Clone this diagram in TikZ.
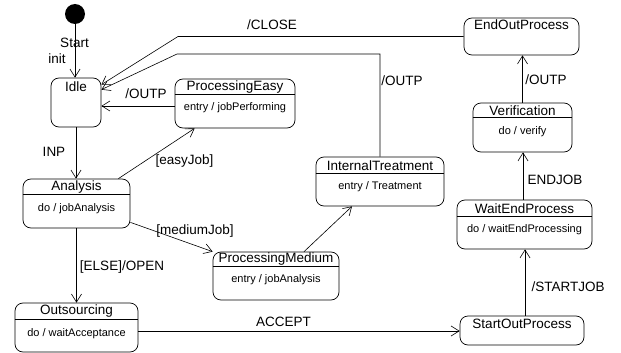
\documentclass[tikz,border=0pt]{standalone}
\usepackage{fontspec}
\setmainfont{Liberation Sans}
\usetikzlibrary{arrows.meta}
\begin{document}
\begin{tikzpicture}[x=1pt,y=-1pt,
  state/.style={draw, rounded corners=8pt, line width=0.7pt, inner sep=0pt},
  divider/.style={draw, line width=0.7pt},
  ttl/.style={font=\fontsize{13.5}{15}\selectfont, inner sep=0pt},
  body/.style={font=\fontsize{11}{13}\selectfont, inner sep=0pt},
  lbl/.style={font=\fontsize{13.5}{15}\selectfont, inner sep=0pt},
  arr/.style={draw, line width=0.6pt, -{Straight Barb[length=8pt,width=10pt]}},
  ]
\useasboundingbox (0,0) rectangle (621,353);
% initial
\node[fill=black, circle, minimum size=20pt, inner sep=0pt] (init) at (75,14) {};
% Idle
\node[state, minimum width=50pt, minimum height=49pt] (idle) at (76,102.5) {};
\node[ttl] (idleT) at (76,87) {Idle};
% ProcessingEasy
\node[state, minimum width=120pt, minimum height=49pt] (pe) at (235,103.5) {};
\draw[divider] ([yshift=-16pt]pe.north west) -- ([yshift=-16pt]pe.north east);
\node[ttl] (peT) at (235,87.5) {ProcessingEasy};
\node[body] (peB) at (235,108) {entry / jobPerforming};
% Analysis
\node[state, minimum width=107pt, minimum height=49pt] (an) at (76.5,203.5) {};
\draw[divider] ([yshift=-16pt]an.north west) -- ([yshift=-16pt]an.north east);
\node[ttl] (anT) at (76.5,187.5) {Analysis};
\node[body] (anB) at (76.5,208.5) {do / jobAnalysis};
% Outsourcing
\node[state, minimum width=123pt, minimum height=49pt] (out) at (76.5,327.5) {};
\draw[divider] ([yshift=-17pt]out.north west) -- ([yshift=-17pt]out.north east);
\node[ttl] (outT) at (76.5,311.5) {Outsourcing};
\node[body] (outB) at (76.5,333.5) {do / waitAcceptance};
% ProcessingMedium
\node[state, minimum width=126pt, minimum height=48pt] (pm) at (276,276) {};
\draw[divider] ([yshift=-15pt]pm.north west) -- ([yshift=-15pt]pm.north east);
\node[ttl] (pmT) at (276,259.5) {ProcessingMedium};
\node[body] (pmB) at (276,280) {entry / jobAnalysis};
% InternalTreatment
\node[state, minimum width=128pt, minimum height=49pt] (it) at (380,181.5) {};
\draw[divider] ([yshift=-17pt]it.north west) -- ([yshift=-17pt]it.north east);
\node[ttl] (itT) at (380,165.5) {InternalTreatment};
\node[body] (itB) at (380,187) {entry / Treatment};
% EndOutProcess
\node[state, minimum width=115pt, minimum height=37pt] (eop) at (521.5,36.5) {};
\node[ttl] (eopT) at (521.5,25) {EndOutProcess};
% Verification
\node[state, minimum width=99pt, minimum height=49pt] (ver) at (522.5,127.5) {};
\draw[divider] ([yshift=-15pt]ver.north west) -- ([yshift=-15pt]ver.north east);
\node[ttl] (verT) at (522.5,110.5) {Verification};
\node[body] (verB) at (522.5,132) {do / verify};
% WaitEndProcess
\node[state, minimum width=135pt, minimum height=49pt] (wep) at (524.5,224.5) {};
\draw[divider] ([yshift=-17pt]wep.north west) -- ([yshift=-17pt]wep.north east);
\node[ttl] (wepT) at (524.5,208.5) {WaitEndProcess};
\node[body] (wepB) at (524.5,230) {do / waitEndProcessing};
% StartOutProcess
\node[state, minimum width=124pt, minimum height=29pt] (sop) at (522,330.5) {};
\node[ttl] (sopT) at (522,324) {StartOutProcess};

% bends
\coordinate (bendA) at (178,36.5);
\coordinate (bendB) at (177,54);

% connectors
\draw[arr] (init) -- (init |- idle.north);
\draw[arr] (idle.south) -- (idle.south |- an.north);
\draw[arr] (an.south) -- (an.south |- out.north);
\draw[arr] ([yshift=-2.5pt]pe.west) -- ([yshift=-3.5pt]idle.east);
\draw[arr] ([xshift=-12pt]an.north east) -- ([xshift=20pt]pe.south west);
\draw[arr] ([yshift=6pt]an.south east) -- (pm.north west);
\draw[arr] ([xshift=28pt]pm.north) -- ([xshift=-28pt]it.south);
\draw[arr] (it.north) |- (bendB) -- ([yshift=-12pt]idle.north east);
\draw[arr] (eop.west) -- (bendA) -- ([yshift=-7pt]idle.north east);
\draw[arr] (ver.north) -- (ver.north |- eop.south);
\draw[arr] ([xshift=-1.5pt]wep.north) -- ([xshift=-1.5pt]wep.north |- ver.south);
\draw[arr] ([xshift=3pt]sop.north) -- ([xshift=3pt]sop.north |- wep.south);
\draw[arr] ([yshift=-3.5pt]out.east) -- ([yshift=-0.5pt]sop.west);

% labels
\node[lbl] (lStart) at (74.5,43) {Start};
\node[lbl] (lInit) at (57,59) {init};
\node[lbl] (lOutp1) at (146,94) {/OUTP};
\node[lbl] (lInp) at (54,152) {INP};
\node[lbl] (lEasy) at (184.5,161) {[easyJob]};
\node[lbl] (lClose) at (272,25) {/CLOSE};
\node[lbl] (lOutp2) at (402,81) {/OUTP};
\node[lbl] (lOutp3) at (546,80) {/OUTP};
\node[lbl] (lEndjob) at (555,180) {ENDJOB};
\node[lbl] (lStartjob) at (568,287) {/STARTJOB};
\node[lbl] (lAccept) at (283.5,322) {ACCEPT};
\node[lbl] (lElse) at (122,267) {[ELSE]/OPEN};
\node[lbl] (lMedium) at (195,231) {[mediumJob]};
\end{tikzpicture}
\end{document}
